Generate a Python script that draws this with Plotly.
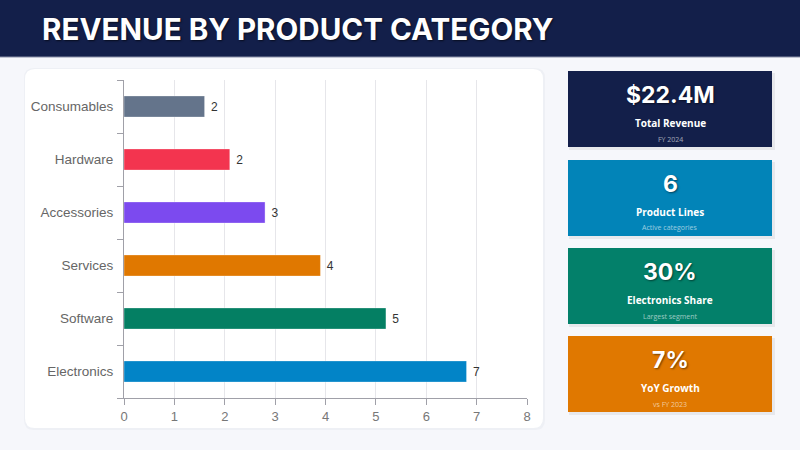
import plotly.graph_objects as go

W, H = 800, 450

categories = ["Electronics", "Software", "Services", "Accessories", "Hardware", "Consumables"]
revenue = [6.8, 5.2, 3.9, 2.8, 2.1, 1.6]
bar_colors = ["#0284c7", "#047f63", "#e07800", "#7c4aef", "#f3344f", "#64748b"]
x_ticks = [0, 1, 2, 3, 4, 5, 6, 7, 8]

kpi_values = ["$22.4M", "6", "30%", "7%"]
kpi_labels = ["Total Revenue", "Product Lines", "Electronics Share", "YoY Growth"]
kpi_notes = ["FY 2024", "Active categories", "Largest segment", "vs FY 2023"]
kpi_colors = ["#131f4a", "#0284b8", "#03806a", "#e07800"]


def px(x):
    return x / W


def py(y):
    return (H - y) / H


def round_rect(x0, y0, x1, y1, r):
    # pixel coords -> paper path with rounded corners
    X0, X1 = px(x0), px(x1)
    Y0, Y1 = py(y0), py(y1)
    rx, ry = r / W, r / H
    return (f"M {X0+rx},{Y0} L {X1-rx},{Y0} Q {X1},{Y0} {X1},{Y0-ry} "
            f"L {X1},{Y1+ry} Q {X1},{Y1} {X1-rx},{Y1} L {X0+rx},{Y1} "
            f"Q {X0},{Y1} {X0},{Y1+ry} L {X0},{Y0-ry} Q {X0},{Y0} {X0+rx},{Y0} Z")


fig = go.Figure()
fig.add_trace(go.Bar(
    y=categories, x=revenue, orientation="h",
    marker=dict(color=bar_colors, line=dict(color="rgba(255,255,255,0.35)", width=1)),
    text=[f"\u00a0{v:.0f}" for v in revenue], textposition="outside",
    textfont=dict(family="Liberation Sans, Arial", size=12, color="#333333"),
    cliponaxis=False, hoverinfo="skip",
))

shapes = [
    # header band
    dict(type="rect", xref="paper", yref="paper", x0=0, x1=1, y0=py(57), y1=1,
         fillcolor="#131f4a", line_width=0, layer="below"),
    dict(type="line", xref="paper", yref="paper", x0=0, x1=1, y0=py(57), y1=py(57),
         line=dict(color="#8a90a8", width=1), layer="below"),
    # chart card
    dict(type="path", xref="paper", yref="paper", path=round_rect(24, 68, 545, 430, 10),
         fillcolor="#eef0f5", line_width=0, layer="below"),
    dict(type="path", xref="paper", yref="paper", path=round_rect(25, 69, 543, 428, 10),
         fillcolor="#ffffff", line_width=0, layer="below"),
]

annotations = [
    dict(text="<b>REVENUE BY PRODUCT CATEGORY</b>", xref="paper", yref="paper",
         x=px(40), y=py(29), xanchor="left", yanchor="middle", showarrow=False,
         font=dict(family="Inter", size=29.6, color="#ffffff",
                   shadow="1px 1px 2px rgba(0,0,0,0.6)")),
]

card_tops = [71, 160, 248, 336]
card_h = 76
for i, top in enumerate(card_tops):
    shapes.append(dict(type="rect", xref="paper", yref="paper",
                       x0=px(569), x1=px(775), y0=py(top + card_h + 3), y1=py(top + 2),
                       fillcolor="rgba(0,0,0,0.06)", line_width=0, layer="below"))
    shapes.append(dict(type="rect", xref="paper", yref="paper",
                       x0=px(568), x1=px(772), y0=py(top + card_h), y1=py(top),
                       fillcolor=kpi_colors[i], line_width=0, layer="below"))
    cx = px(670)
    annotations.append(dict(text=f"<b>{kpi_values[i]}</b>", xref="paper", yref="paper",
                            x=cx, y=py(top + 24), showarrow=False,
                            xanchor="center", yanchor="middle",
                            font=dict(family="Inter", size=23, color="#ffffff",
                                      shadow="1px 1px 2px rgba(0,0,0,0.5)")))
    annotations.append(dict(text=f"<b>{kpi_labels[i]}</b>", xref="paper", yref="paper",
                            x=cx, y=py(top + 52), showarrow=False,
                            xanchor="center", yanchor="middle",
                            font=dict(family="Open Sans", size=10, color="#ffffff")))
    annotations.append(dict(text=kpi_notes[i], xref="paper", yref="paper",
                            x=cx, y=py(top + 68), showarrow=False,
                            xanchor="center", yanchor="middle",
                            font=dict(family="Open Sans", size=7,
                                      color="rgba(255,255,255,0.6)")))

fig.update_layout(
    width=W, height=H,
    margin=dict(l=0, r=0, t=0, b=0, pad=0),
    paper_bgcolor="#f6f7fb", plot_bgcolor="rgba(0,0,0,0)",
    showlegend=False, bargap=0.6,
    shapes=shapes, annotations=annotations,
    xaxis=dict(domain=[px(124), px(527)], range=[0, 8], tickvals=x_ticks,
               automargin=False,
               showgrid=True, gridcolor="#e6e6ea", gridwidth=1, zeroline=False,
               showline=True, linecolor="#a0a0a8", ticks="outside", ticklen=6,
               tickcolor="#a0a0a8",
               tickfont=dict(family="Liberation Sans, Arial", size=13, color="#777777")),
    yaxis=dict(domain=[py(398), py(80)], categoryorder="array", categoryarray=categories,
               automargin=False,
               showline=True, linecolor="#a0a0a8", ticks="outside", ticklen=6,
               tickcolor="#a0a0a8", tickson="boundaries", showgrid=False,
               ticklabelstandoff=7,
               tickfont=dict(family="Liberation Sans, Arial", size=13.5, color="#666666")),
)

fig.write_html("out.html", config={"displayModeBar": False},
               post_script="document.body.style.margin='0';"
                           "document.body.style.overflow='hidden';")
